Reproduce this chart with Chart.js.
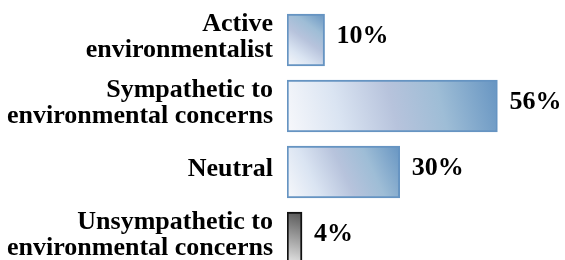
<!DOCTYPE html>
<html>
<head>
<meta charset="utf-8">
<script src="https://cdn.jsdelivr.net/npm/chart.js@4/dist/chart.umd.min.js"></script>
<style>
  html, body { margin: 0; padding: 0; background: #fff; overflow: hidden; width: 565px; height: 260px; }
  #wrap { position: relative; width: 565px; height: 275px; }
</style>
</head>
<body>
<div id="wrap"><canvas id="c"></canvas></div>
<script>
const categories = [
  ["Active", "environmentalist"],
  ["Sympathetic to", "environmental concerns"],
  ["Neutral"],
  ["Unsympathetic to", "environmental concerns"]
];
const values = [10, 56, 30, 4];
const valueLabels = ["10%", "56%", "30%", "4%"];
const barKinds = ["blue", "blue", "blue", "gray"];

const FONT = "'Liberation Serif', 'Times New Roman', serif";
const BAR_H = 52;

function barGradient(c) {
  const chart = c.chart;
  const kind = barKinds[c.dataIndex];
  const fallback = kind === "gray" ? "#999" : "#a9bfdc";
  if (!chart.chartArea || c.type !== "data") return fallback;
  const xs = chart.scales.x, ys = chart.scales.y;
  const x0 = xs.getPixelForValue(0), x1 = xs.getPixelForValue(values[c.dataIndex]);
  const yc = ys.getPixelForValue(c.dataIndex);
  const g = chart.ctx.createLinearGradient(x0, yc + BAR_H / 2, x1, yc - BAR_H / 2);
  if (kind === "gray") {
    g.addColorStop(0, "#e8e8e8");
    g.addColorStop(1, "#555555");
  } else {
    g.addColorStop(0, "#f7f8fb");
    g.addColorStop(0.25, "#dae4f2");
    g.addColorStop(0.5, "#b7c3dc");
    g.addColorStop(0.72, "#9ebdd6");
    g.addColorStop(1, "#6795c2");
  }
  return g;
}

const valueLabelPlugin = {
  id: "valueLabels",
  afterDatasetsDraw(chart) {
    const ctx = chart.ctx;
    const meta = chart.getDatasetMeta(0);
    ctx.save();
    ctx.font = "bold 26px " + FONT;
    ctx.fillStyle = "#000";
    ctx.textAlign = "left";
    ctx.textBaseline = "middle";
    meta.data.forEach((el, i) => {
      ctx.fillText(valueLabels[i], el.x + 12, el.y - 4);
    });
    ctx.restore();
  }
};

new Chart(document.getElementById("c"), {
  type: "bar",
  data: {
    labels: categories,
    datasets: [{
      data: values,
      backgroundColor: barGradient,
      borderColor: (c) => barKinds[c.dataIndex] === "gray" ? "#111111" : "#6694c2",
      borderWidth: 2,
      borderSkipped: false,
      barThickness: BAR_H
    }]
  },
  options: {
    indexAxis: "y",
    responsive: true,
    maintainAspectRatio: false,
    animation: false,
    layout: { padding: { top: 7, bottom: 4, left: 0, right: 0 } },
    plugins: { legend: { display: false }, tooltip: { enabled: false } },
    scales: {
      x: {
        display: false,
        min: 0,
        max: 74
      },
      y: {
        grid: { display: false, drawTicks: false },
        border: { display: false },
        ticks: {
          color: "#000",
          padding: 14,
          labelOffset: -3,
          font: { family: FONT, size: 26, weight: "bold", lineHeight: 1.0 }
        },
        afterFit(scale) {
          scale.width = 287;
          scale.paddingTop = 0;
          scale.paddingBottom = 0;
        }
      }
    }
  },
  plugins: [valueLabelPlugin]
});
</script>
</body>
</html>
